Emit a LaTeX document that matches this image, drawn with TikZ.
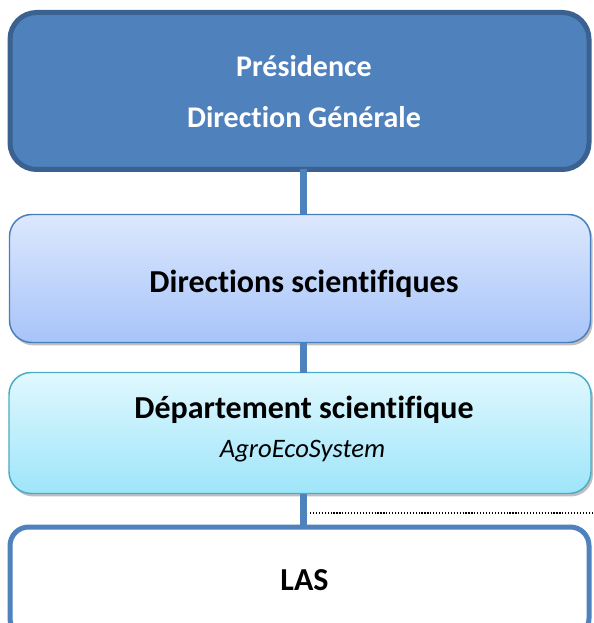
\documentclass[tikz,border=0pt]{standalone}
\usepackage{fontspec}
\setmainfont{Carlito}[Ligatures=NoCommon]
\usetikzlibrary{shadows}
\definecolor{topfill}{HTML}{4F81BD}
\definecolor{topline}{HTML}{3A6190}
\definecolor{dirtop}{HTML}{DCE8FD}
\definecolor{dirbot}{HTML}{A7C4F9}
\definecolor{dirline}{HTML}{4A7EBB}
\definecolor{deptop}{HTML}{E0F8FE}
\definecolor{depbot}{HTML}{9EE5FA}
\definecolor{depline}{HTML}{4BACC6}
\definecolor{connc}{HTML}{4F81BD}
\tikzset{
  orgbox/.style={rectangle, inner sep=0pt, outer sep=0pt},
  softshadow/.style={drop shadow={shadow xshift=1.5pt, shadow yshift=-2.2pt, opacity=0.45, fill=black!55}},
  conn/.style={draw=connc, line width=5.25pt},
  boldtxt/.style={font=\fontsize{22.5}{27}\selectfont\bfseries, anchor=base, inner sep=0pt},
  bigtxt/.style={font=\fontsize{24}{28}\selectfont\bfseries, anchor=base, inner sep=0pt},
  itxt/.style={font=\fontsize{20}{24}\selectfont\itshape, anchor=base, inner sep=0pt},
}
\begin{document}
\begin{tikzpicture}[x=0.75pt, y=-0.75pt]
\clip (0,0) rectangle (593,623);
\fill[white] (0,0) rectangle (593,623);
% boxes
\node[orgbox, draw=topline, fill=topfill, line width=3.75pt, rounded corners=20pt,
      minimum width=434.25pt, minimum height=117.75pt] (pres) at (299.5,91) {};
\node[orgbox, draw=dirline, line width=1.1pt, rounded corners=16.5pt, softshadow,
      top color=dirtop, bottom color=dirbot,
      minimum width=435.75pt, minimum height=96pt] (dirsci) at (300,278.5) {};
\node[orgbox, draw=depline, line width=1.1pt, rounded corners=16.5pt, softshadow,
      top color=deptop, bottom color=depbot,
      minimum width=436.5pt, minimum height=90.75pt] (dept) at (300,433) {};
\node[orgbox, draw=connc, fill=white, line width=3.75pt, rounded corners=14pt,
      minimum width=434.25pt, minimum height=82.5pt] (las) at (299.5,582) {};
% connectors
\coordinate (spine) at (303.5,0);
\draw[conn] (pres.south -| spine) -- (dirsci.north -| spine);
\draw[conn] (dirsci.south -| spine) -- (dept.north -| spine);
\draw[conn] (dept.south -| spine) -- (las.north -| spine);
\coordinate (dotA) at (310,513);
\coordinate (dotB) at (593,513);
\draw[black, line width=0.9pt, dash pattern=on 0.9pt off 1.3pt] (dotA) -- (dotB);
% texts
\node[boldtxt, text=white] (t1) at (304,77) {Présidence};
\node[boldtxt, text=white] (t2) at (304,128) {Direction Générale};
\node[bigtxt] (t3) at (304,292) {Directions scientifiques};
\node[bigtxt] (t4) at (304,418) {Département scientifique};
\node[itxt] (t5) at (302.5,457) {AgroEcoSystem};
\node[bigtxt] (t6) at (304.5,590) {LAS};
\end{tikzpicture}
\end{document}
